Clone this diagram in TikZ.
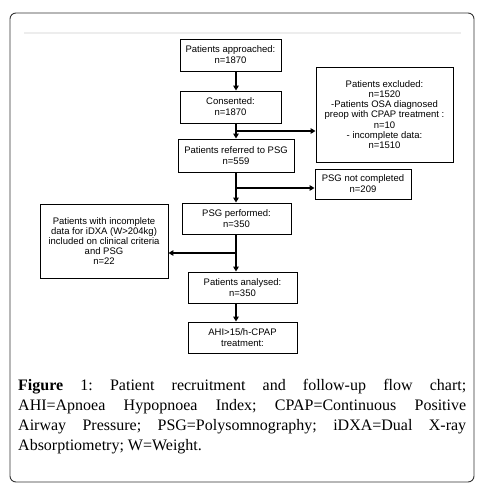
\documentclass[tikz,border=0pt]{standalone}
\usepackage{fontspec}
\setmainfont{Liberation Serif}
\newfontfamily\boxfont{Liberation Sans}
\usetikzlibrary{arrows.meta}
\frenchspacing
\begin{document}
\begin{tikzpicture}[x=1pt,y=-1pt,
  fbox/.style={draw=black, line width=0.9pt, fill=white, align=center, inner sep=0pt,
    font=\boxfont\fontsize{9.5}{10.8}\selectfont},
  tightbox/.style={fbox, font=\boxfont\fontsize{9.5}{10.2}\selectfont},
  flow/.style={line width=1.8pt, -{Triangle[length=5pt,width=5.5pt]}}]
\useasboundingbox (0,0) rectangle (488,495);
\fill[white] (0,0) rectangle (488,495);
\draw[line width=0.9pt, draw=black!80, rounded corners=6pt] (10,13) rectangle (474,482);
\draw[line width=1.5pt, draw=black!7] (24,33) -- (461,33);

\node[fbox, minimum width=101pt, minimum height=32pt] (A) at (230.5,55) {Patients approached:\\n=1870};
\node[fbox, minimum width=101pt, minimum height=32pt] (B) at (230.5,107) {Consented:\\n=1870};
\node[tightbox, minimum width=137pt, minimum height=95pt] (C) at (384.5,114.5) {Patients excluded:\\n=1520\\-Patients OSA diagnosed\\preop with CPAP treatment :\\n=10\\- incomplete data:\\n=1510};
\node[fbox, minimum width=116pt, minimum height=33pt] (D) at (236,155.5) {Patients referred to PSG\\n=559};
\node[fbox, minimum width=96pt, minimum height=30pt] (E) at (363,184) {PSG not completed\\n=209};
\node[fbox, minimum width=109pt, minimum height=31pt] (F) at (236.5,218.5) {PSG performed:\\n=350};
\node[tightbox, minimum width=128pt, minimum height=74pt] (G) at (104,241) {Patients with incomplete\\data for iDXA (W>204kg)\\included on clinical criteria\\and PSG\\n=22};
\node[fbox, minimum width=109pt, minimum height=31pt] (H) at (242.5,287.5) {Patients analysed:\\n=350};
\node[fbox, minimum width=109pt, minimum height=31pt] (I) at (242.5,337.5) {AHI>15/h-CPAP\\treatment:};

\coordinate (col) at (236,0);
\draw[flow] (A.south -| col) -- (B.north -| col);
\draw[flow] (B.south -| col) -- (D.north -| col);
\coordinate (j1) at (236,131);
\draw[flow] (j1) -- (j1 -| C.west);
\draw[flow] (D.south -| col) -- (F.north -| col);
\coordinate (j2) at (236,188);
\draw[flow] (j2) -- (j2 -| E.west);
\draw[flow] (F.south -| col) -- (H.north -| col);
\coordinate (j3) at (236,253);
\draw[flow] (j3) -- (j3 -| G.east);
\draw[flow] (H.south -| col) -- (I.north -| col);

\node[anchor=base west, inner sep=0pt] (cap) at (18,390) {\parbox[t]{448pt}{\frenchspacing\tolerance=10000\hbadness=10000\fontsize{16}{20}\selectfont \textbf{Figure} 1: Patient recruitment and follow-up flow chart;\linebreak AHI=Apnoea Hypopnoea Index; CPAP=Continuous Positive\linebreak Airway Pressure; PSG=Polysomnography; iDXA=Dual X-ray\linebreak Absorptiometry; W=Weight.}};
\end{tikzpicture}
\end{document}
